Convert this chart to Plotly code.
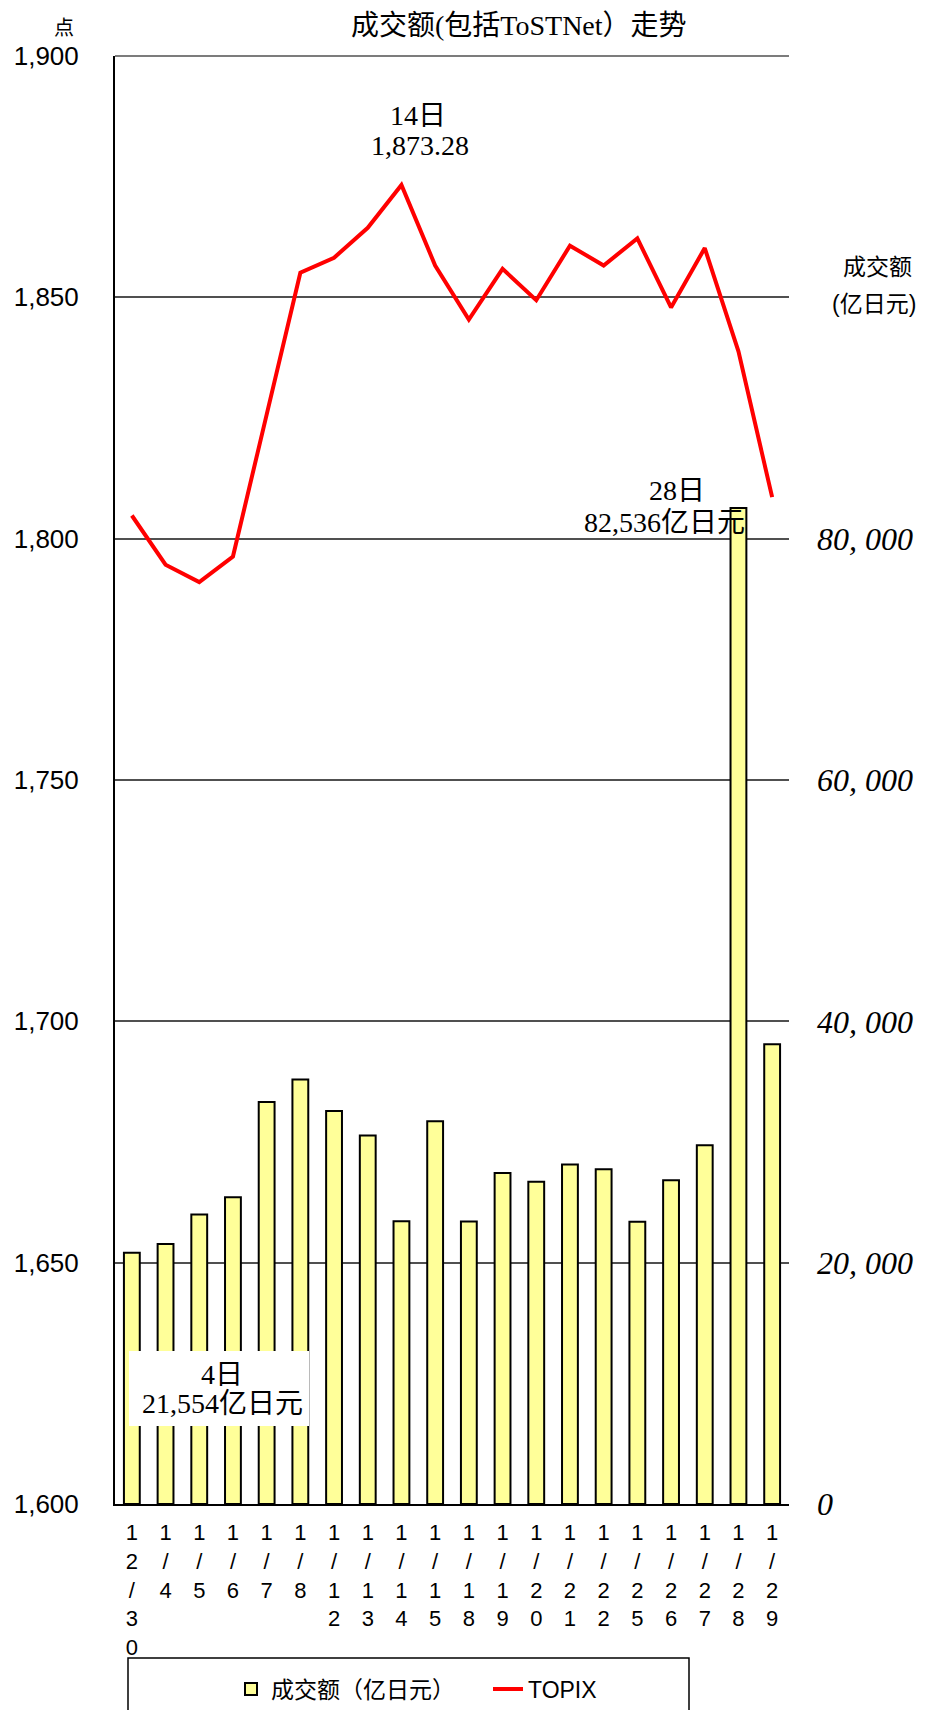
import plotly.graph_objects as go

dates = ["12/30", "1/4", "1/5", "1/6", "1/7", "1/8", "1/12", "1/13", "1/14", "1/15",
         "1/18", "1/19", "1/20", "1/21", "1/22", "1/25", "1/26", "1/27", "1/28", "1/29"]
volume = [20820, 21554, 24000, 25430, 33320, 35170, 32570, 30540, 23440, 31720,
          23420, 27440, 26700, 28140, 27750, 23390, 26840, 29740, 82536, 38100]
topix = [1804.8, 1794.6, 1791.0, 1796.3, 1825.7, 1855.1, 1858.2, 1864.4, 1873.28, 1856.6,
         1845.4, 1855.9, 1849.4, 1860.7, 1856.6, 1862.2, 1847.9, 1860.2, 1838.8, 1808.6]
left_ticks = [1600, 1650, 1700, 1750, 1800, 1850, 1900]
left_ticktext = ["1,600", "1,650", "1,700", "1,750", "1,800", "1,850", "1,900"]
right_ticks = [0, 20000, 40000, 60000, 80000]
right_ticktext = ["0", "20, 000", "40, 000", "60, 000", "80, 000"]

# page body has an 8px margin; figure sized so it ends at the window edge
OFF = 8
W, H = 925 - OFF, 1710 - OFF
L, R, T, B = 107, 136, 48, 206
PW, PH = W - L - R, H - T - B


def px(x):
    # x given in window pixels
    return (x - OFF - L) / PW


def py(y):
    return (H - B - (y - OFF)) / PH


def cy(y):
    return 1 - (y - OFF) / H


SERIF = "Liberation Serif, Noto Sans CJK SC"
SANS = "Liberation Sans, Noto Sans CJK SC"

fig = go.Figure()
fig.add_trace(go.Bar(
    x=dates, y=volume, name="成交额（亿日元）", yaxis="y",
    marker=dict(color="#FFFF99", line=dict(color="black", width=2)),
    width=0.47,
))
fig.add_trace(go.Scatter(
    x=dates, y=topix, name="TOPIX", yaxis="y2", mode="lines",
    line=dict(color="#FF0000", width=4),
))


def label(text, x, y, size=28, family=SERIF, yanchor="middle"):
    return dict(text=text, x=px(x), y=py(y), xref="paper", yref="paper",
                showarrow=False, xanchor="center", yanchor=yanchor,
                font=dict(family=family, size=size, color="black"))


fig.update_layout(
    width=W, height=H,
    margin=dict(l=L, r=R, t=T, b=B, autoexpand=False),
    paper_bgcolor="white", plot_bgcolor="white",
    showlegend=True,
    legend=dict(orientation="h", xref="paper", x=px(231), xanchor="left",
                yref="container", y=cy(1689), yanchor="middle",
                entrywidth=212, entrywidthmode="pixels",
                font=dict(family=SANS, size=23, color="black"), bgcolor="rgba(0,0,0,0)"),
    xaxis=dict(
        type="category", categoryorder="array", categoryarray=dates,
        tickvals=dates, ticktext=["<br>".join(list(d)) for d in dates],
        tickfont=dict(family=SANS, size=22, color="black"),
        showline=True, linecolor="black", linewidth=2, showgrid=False,
        ticks="", ticklabelstandoff=8, automargin=False,
    ),
    yaxis=dict(
        side="right", range=[0, 120000], tickvals=right_ticks, ticktext=right_ticktext,
        tickfont=dict(family="Liberation Serif", size=32, color="black", style="italic"),
        showgrid=False, zeroline=False, showline=False, ticks="", ticklabelstandoff=27,
        automargin=False,
    ),
    yaxis2=dict(
        overlaying="y", side="left", range=[1600, 1900], tickvals=left_ticks, ticktext=left_ticktext,
        tickfont=dict(family="Liberation Sans", size=26, color="black"),
        showgrid=True, gridcolor="#505050", gridwidth=1.5, zeroline=False,
        showline=True, linecolor="black", linewidth=2, ticks="", ticklabelstandoff=29,
        automargin=False,
    ),
    shapes=[
        dict(type="line", xref="paper", yref="paper", x0=0, x1=1, y0=1, y1=1,
             line=dict(color="#505050", width=1.5), layer="below"),
        dict(type="rect", xref="paper", yref="paper", x0=px(128), x1=px(689),
             y0=py(1725), y1=py(1658), line=dict(color="black", width=1.5),
             fillcolor="rgba(0,0,0,0)", layer="below"),
        dict(type="rect", xref="paper", yref="paper", x0=px(129), x1=px(309),
             y0=py(1426), y1=py(1351), line=dict(width=0),
             fillcolor="white", layer="above"),
    ],
    annotations=[
        label("成交额(包括ToSTNet）走势", 519, 8, size=28, yanchor="top"),
        label("点", 64, 28, size=20),
        label("成交额", 877, 267, size=23, family=SANS),
        label("(亿日元)", 874, 304, size=23, family=SANS),
        label("14日", 418, 116),
        label("1,873.28", 420, 145),
        label("28日", 677, 490),
        label("82,536亿日元", 664, 522),
        label("4日", 222, 1374),
        label("21,554亿日元", 222, 1403),
    ],
)

fig.write_html("out.html")
